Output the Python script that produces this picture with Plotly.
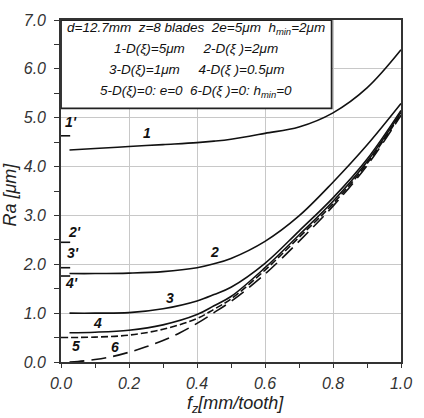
import plotly.graph_objects as go

# ---- data ----
fz = [0.025, 0.1, 0.2, 0.3, 0.4, 0.45, 0.5, 0.6, 0.7, 0.8, 0.9, 1.0]
ra_1 = [4.34, 4.37, 4.41, 4.45, 4.49, 4.52, 4.56, 4.68, 4.81, 5.10, 5.61, 6.39]
ra_2 = [1.81, 1.81, 1.82, 1.85, 1.93, 2.01, 2.12, 2.47, 2.99, 3.68, 4.44, 5.29]
ra_3 = [1.00, 1.00, 1.01, 1.09, 1.25, 1.38, 1.53, 2.02, 2.68, 3.36, 4.15, 5.15]
ra_4 = [0.60, 0.61, 0.65, 0.76, 0.97, 1.15, 1.34, 1.93, 2.60, 3.29, 4.10, 5.11]
fz_5 = [0.0, 0.1, 0.2, 0.3, 0.4, 0.45, 0.5, 0.6, 0.7, 0.8, 0.9, 1.0]
ra_5 = [0.50, 0.51, 0.55, 0.67, 0.89, 1.08, 1.29, 1.88, 2.55, 3.24, 4.06, 5.08]
fz_6 = [0.025, 0.05, 0.1, 0.15, 0.2, 0.25, 0.3, 0.35, 0.4, 0.45, 0.5, 0.6, 0.7, 0.8, 0.9, 1.0]
ra_6 = [0.00, 0.01, 0.05, 0.11, 0.20, 0.31, 0.44, 0.60, 0.79, 1.01, 1.24, 1.80, 2.47, 3.19, 4.02, 5.05]

prime_names = ["1'", "2'", "3'", "4'"]
prime_values = [4.63, 2.45, 1.93, 1.76]
prime_label_x = [0.03, 0.04, 0.035, 0.03]
prime_label_y = [4.91, 2.67, 2.24, 1.62]

curve_names = ["1", "2", "3", "4", "5", "6"]
curve_label_x = [0.254, 0.451, 0.32, 0.107, 0.045, 0.16]
curve_label_y = [4.68, 2.26, 1.32, 0.79, 0.33, 0.30]

x_tickvals = [0.0, 0.2, 0.4, 0.6, 0.8, 1.0]
x_ticktext = ["0.0", "0.2", "0.4", "0.6", "0.8", "1.0"]
y_tickvals = [0, 1, 2, 3, 4, 5, 6, 7]
y_ticktext = ["0.0", "1.0", "2.0", "3.0", "4.0", "5.0", "6.0", "7.0"]

legend_lines = [
    "d=12.7mm  z=8 blades  2e=5μm  h<sub>min</sub>=2μm",
    "1-D(ξ)=5μm     2-D(ξ )=2μm",
    "3-D(ξ)=1μm     4-D(ξ )=0.5μm",
    "5-D(ξ)=0: e=0  6-D(ξ )=0: h<sub>min</sub>=0",
]
legend_line_y = [6.82, 6.41, 5.98, 5.53]

FONT = "Liberation Sans, Arial, sans-serif"
INK = "#111111"

fig = go.Figure()

series = [
    (fz, ra_1, None), (fz, ra_2, None), (fz, ra_3, None), (fz, ra_4, None),
    (fz_5, ra_5, "7px,3px"), (fz_6, ra_6, "15px,7px"),
]
for xs, ys, dash in series:
    fig.add_trace(go.Scatter(
        x=xs, y=ys, mode="lines",
        line=dict(color=INK, width=1.6, shape="spline", smoothing=1.0,
                  dash=dash if dash else "solid"),
        showlegend=False, hoverinfo="skip"))

# prime reference marks on the Ra axis
for v in prime_values:
    fig.add_trace(go.Scatter(
        x=[0.0, 0.027], y=[v, v], mode="lines",
        line=dict(color=INK, width=1.6), showlegend=False, hoverinfo="skip",
        cliponaxis=False))

annotations = []
for name, xx, yy in zip(prime_names, prime_label_x, prime_label_y):
    annotations.append(dict(x=xx, y=yy, xref="x", yref="y", text=f"<b>{name}</b>",
                            showarrow=False, font=dict(family=FONT, size=14, color=INK, style="italic")))
for name, xx, yy in zip(curve_names, curve_label_x, curve_label_y):
    annotations.append(dict(x=xx, y=yy, xref="x", yref="y", text=f"<b>{name}</b>",
                            showarrow=False, font=dict(family=FONT, size=14, color=INK, style="italic")))
for txt, yy in zip(legend_lines, legend_line_y):
    annotations.append(dict(x=0.398, y=yy, xref="x", yref="y", text=txt, showarrow=False,
                            xanchor="center",
                            font=dict(family=FONT, size=13.5, color=INK, style="italic")))

# axis titles
annotations.append(dict(x=0, y=0.5, xref="paper", yref="paper", text="Ra [μm]",
                        textangle=-90, showarrow=False, xanchor="center", yanchor="middle",
                        xshift=-51.5, yshift=-4,
                        font=dict(family=FONT, size=18, color="#222", style="italic")))
annotations.append(dict(x=0.5, y=0, xref="paper", yref="paper", text="f<sub>z</sub>[mm/tooth]",
                        showarrow=False, xanchor="center", yanchor="middle",
                        xshift=4, yshift=-42,
                        font=dict(family=FONT, size=18, color="#222", style="italic")))

fig.update_layout(
    width=424, height=418,
    margin=dict(l=61, r=13, t=13, b=56),
    paper_bgcolor="white", plot_bgcolor="white",
    annotations=annotations,
    shapes=[dict(type="rect", xref="x", yref="y", x0=0.0, x1=0.796, y0=5.19, y1=7.0,
                 fillcolor="white", line=dict(color="#222", width=1.8), layer="between")],
)
fig.update_xaxes(
    range=[0, 1], tickvals=x_tickvals, ticktext=x_ticktext,
    showgrid=True, gridcolor="#c8c8c8", gridwidth=1,
    showline=True, linecolor="#333", linewidth=1.6, mirror=True,
    ticks="outside", ticklen=4, tickcolor="#333", tickwidth=1,
    minor=dict(dtick=0.1, tick0=0, ticks="outside", ticklen=4, tickcolor="#333", showgrid=False),
    tickfont=dict(family=FONT, size=16, color="#333", style="italic"),
    ticklabelstandoff=2,
    zeroline=False,
)
fig.update_yaxes(
    range=[0, 7], tickvals=y_tickvals, ticktext=y_ticktext,
    showgrid=True, gridcolor="#c8c8c8", gridwidth=1,
    showline=True, linecolor="#333", linewidth=1.6, mirror=True,
    ticks="outside", ticklen=5, tickcolor="#333", tickwidth=1,
    minor=dict(dtick=0.5, tick0=0, ticks="outside", ticklen=5, tickcolor="#333", showgrid=False),
    tickfont=dict(family=FONT, size=16, color="#333", style="italic"),
    ticklabelstandoff=5,
    zeroline=False,
)

fig.write_html("out.html")
